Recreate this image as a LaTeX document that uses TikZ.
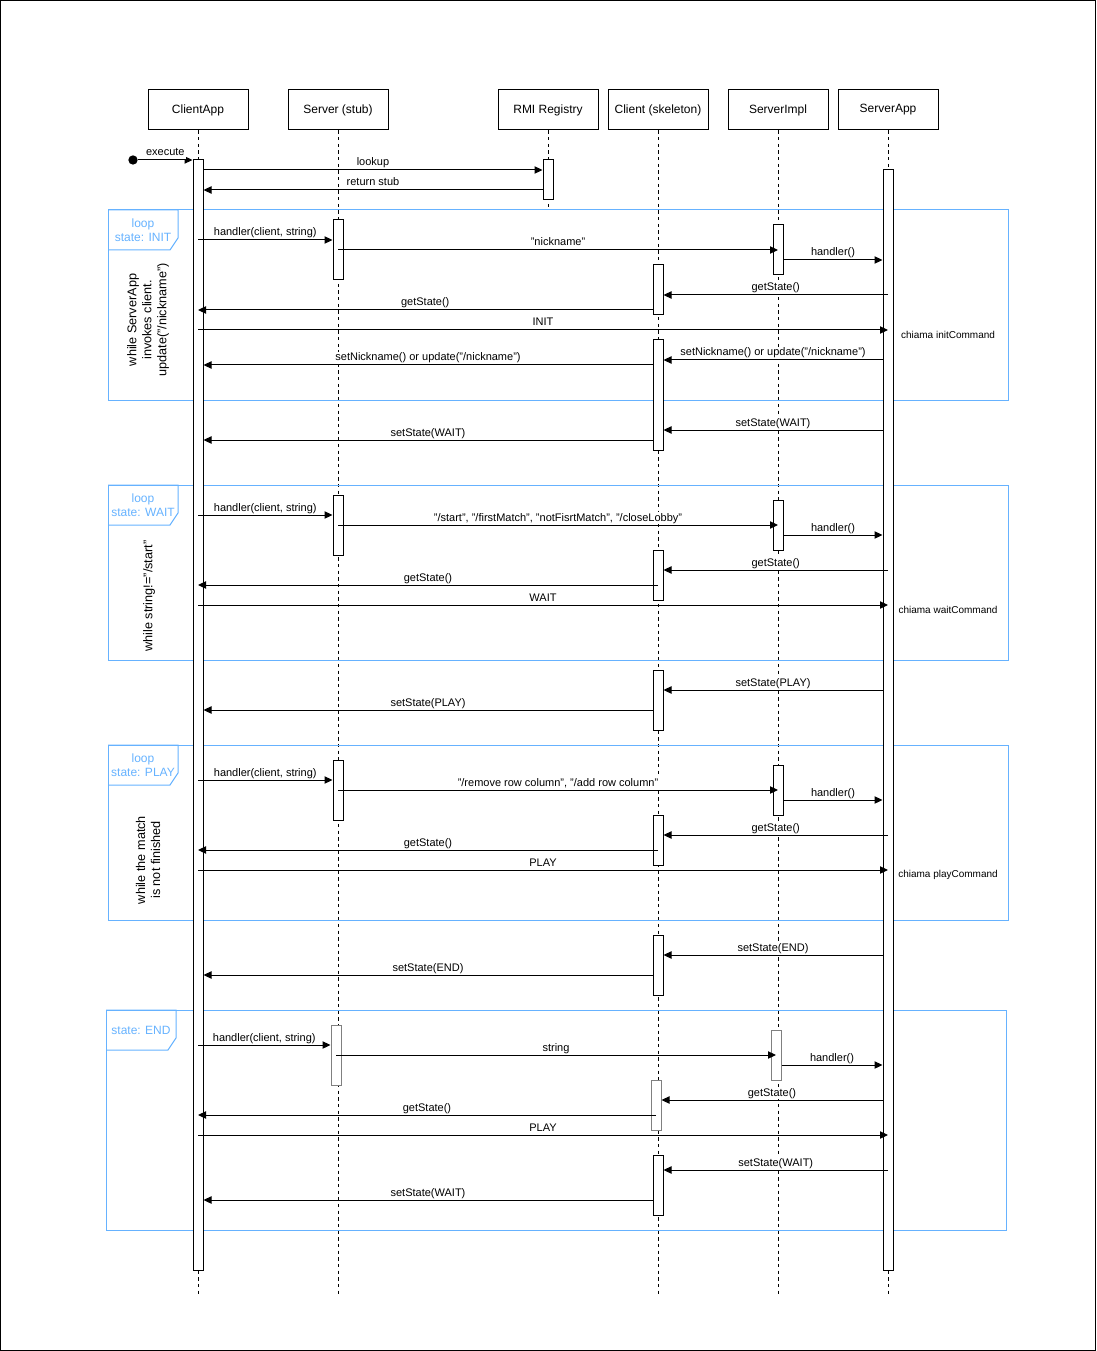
\documentclass[tikz,border=0pt]{standalone}
\usepackage{fontspec}
\setmainfont{Liberation Sans}
\usetikzlibrary{arrows.meta, positioning}
\definecolor{frameblue}{RGB}{102,178,255}

\begin{document}
\begin{tikzpicture}[x=0.75pt, y=-0.75pt, line width=0.75pt,
  head/.style={draw, minimum width=75pt, minimum height=30pt, inner sep=0pt, font=\fontsize{9}{11}\selectfont},
  life/.style={dash pattern=on 2.5pt off 2.5pt},
  act/.style={draw, fill=white, inner sep=0pt, minimum width=7.5pt},
  msg/.style={-{Triangle[length=6pt,width=5.5pt]}},
  lbl/.style={above, midway, fill=white, inner sep=0.8pt, outer sep=0.4pt, text height=6pt, text depth=1.8pt, font=\fontsize{8.25}{10}\selectfont},
  frame/.style={draw=frameblue},
  tab/.style={text=frameblue, align=center, font=\fontsize{9}{10.8}\selectfont},
  cond/.style={rotate=90, align=center, font=\fontsize{9.5}{11.25}\selectfont},
  note/.style={font=\fontsize{7.5}{9}\selectfont}]

\useasboundingbox (0,0) rectangle (1096,1351);
\draw[line width=1pt] (0.5,0.5) rectangle (1095.5,1350.5);

% partecipanti e linee di vita
\foreach \n/\x/\e/\t in {ca/198/1297/ClientApp, ss/338/1297/Server (stub), rmi/548/210/RMI Registry,
  sk/658/1297/Client (skeleton), si/778/1297/ServerImpl, sa/888/1297/ServerApp} {
  \node[head] (\n) at (\x,110) {\t};
  \coordinate (\n end) at (\x,\e);
  \draw[life] (\n) -- (\n end);
}

% riquadri dei cicli
\foreach \n/\x/\y/\h/\t in {f1/108/210/190/{loop\\state: INIT}, f2/108/485/175/{loop\\state: WAIT},
  f3/108/745/175/{loop\\state: PLAY}, f4/106/1010/220/{state: END}} {
  \draw[frame] (\x,\y) rectangle ++(900,\h);
  \draw[frame] (\x,\y) -- ++(70,0) -- ++(0,28) -- ++(-8,12) -- ++(-62,0);
  \node[tab] (\n) at (\x+35,\y+20) {\t};
}

\node[cond] (w1) at (148,320) {while ServerApp\\invokes client.\\update("/nickname")};
\node[cond] (w2) at (149,596) {while string!="/start"};
\node[cond] (w3) at (148,860) {while the match\\is not finished};

% barre di attivazione
\foreach \n/\x/\t/\b/\c in {caA/198/160/1270/black, saA/888/170/1270/black, rmiA/548/160/200/black,
  ss1/338/220/280/black, si1/778/225/275/black, sk1/658/265/315/black, sk2/658/340/450/black,
  ss2/338/495/555/black, si2/778/500/550/black, sk3/658/550/600/black, sk4/658/670/730/black,
  ss3/338/760/820/black, si3/778/765/815/black, sk5/658/815/865/black, sk6/658/935/995/black,
  ss4/336/1025/1085/gray, si4/776/1030/1080/gray, sk7/656/1080/1130/gray, sk8/658/1155/1215/black} {
  \pgfmathsetmacro{\m}{(\t+\b)/2}
  \pgfmathsetmacro{\h}{(\b-\t)*0.75}
  \node[act, draw=\c, minimum height=\h pt] (\n) at (\x,\m) {};
}

% avvio
\node[circle, fill=black, inner sep=0pt, minimum size=7pt] (st) at (133,160) {};
\draw[msg] (st) -- (caA.west |- st) node[lbl] {execute};
\draw[msg] (caA.east |- 0,170) -- (rmiA.west |- 0,170) node[lbl] {lookup};
\draw[msg] (rmiA.west |- 0,190) -- (caA.east |- 0,190) node[lbl] {return stub};

% INIT
\draw[msg] (ca |- 0,240) -- (ss1.west |- 0,240) node[lbl] {handler(client, string)};
\draw[msg] (ss |- 0,250) -- (si |- 0,250) node[lbl] {"nickname"};
\draw[msg] (si1.east |- 0,260) -- (saA.west |- 0,260) node[lbl] {handler()};
\draw[msg] (sa |- 0,295) -- (sk1.east |- 0,295) node[lbl] {getState()};
\draw[msg] (sk1.west |- 0,310) -- (ca |- 0,310) node[lbl] {getState()};
\draw[msg] (ca |- 0,330) -- (sa |- 0,330) node[lbl] {INIT};
\node[note] (n1) at (948,335) {chiama initCommand};
\draw[msg] (saA.west |- 0,360) -- (sk2.east |- 0,360) node[lbl] {setNickname() or update("/nickname")};
\draw[msg] (sk2.west |- 0,365) -- (caA.east |- 0,365) node[lbl] {setNickname() or update("/nickname")};
\draw[msg] (saA.west |- 0,430) -- (sk2.east |- 0,430) node[lbl] {setState(WAIT)};
\draw[msg] (sk2.west |- 0,440) -- (caA.east |- 0,440) node[lbl] {setState(WAIT)};

% WAIT
\draw[msg] (ca |- 0,515) -- (ss2.west |- 0,515) node[lbl] {handler(client, string)};
\draw[msg] (ss |- 0,525) -- (si |- 0,525) node[lbl] {"/start", "/firstMatch", "notFisrtMatch", "/closeLobby"};
\draw[msg] (si2.east |- 0,535) -- (saA.west |- 0,535) node[lbl] {handler()};
\draw[msg] (sa |- 0,570) -- (sk3.east |- 0,570) node[lbl] {getState()};
\draw[msg] (sk |- 0,585) -- (ca |- 0,585) node[lbl] {getState()};
\draw[msg] (ca |- 0,605) -- (sa |- 0,605) node[lbl] {WAIT};
\node[note] (n2) at (948,610) {chiama waitCommand};
\draw[msg] (saA.west |- 0,690) -- (sk4.east |- 0,690) node[lbl] {setState(PLAY)};
\draw[msg] (sk4.west |- 0,710) -- (caA.east |- 0,710) node[lbl] {setState(PLAY)};

% PLAY
\draw[msg] (ca |- 0,780) -- (ss3.west |- 0,780) node[lbl] {handler(client, string)};
\draw[msg] (ss |- 0,790) -- (si |- 0,790) node[lbl] {"/remove row column", "/add row column"};
\draw[msg] (si3.east |- 0,800) -- (saA.west |- 0,800) node[lbl] {handler()};
\draw[msg] (sa |- 0,835) -- (sk5.east |- 0,835) node[lbl] {getState()};
\draw[msg] (sk |- 0,850) -- (ca |- 0,850) node[lbl] {getState()};
\draw[msg] (ca |- 0,870) -- (sa |- 0,870) node[lbl] {PLAY};
\node[note] (n3) at (948,875) {chiama playCommand};
\draw[msg] (saA.west |- 0,955) -- (sk6.east |- 0,955) node[lbl] {setState(END)};
\draw[msg] (sk6.west |- 0,975) -- (caA.east |- 0,975) node[lbl] {setState(END)};

% END
\draw[msg] (ca |- 0,1045) -- (ss4.west |- 0,1045) node[lbl] {handler(client, string)};
\draw[msg] (ss4 |- 0,1055) -- (si4 |- 0,1055) node[lbl] {string};
\draw[msg] (si4.east |- 0,1065) -- (saA.west |- 0,1065) node[lbl] {handler()};
\draw[msg] (saA.west |- 0,1100) -- (sk7.east |- 0,1100) node[lbl] {getState()};
\draw[msg] (sk7 |- 0,1115) -- (ca |- 0,1115) node[lbl] {getState()};
\draw[msg] (ca |- 0,1135) -- (sa |- 0,1135) node[lbl] {PLAY};
\draw[msg] (sa |- 0,1170) -- (sk8.east |- 0,1170) node[lbl] {setState(WAIT)};
\draw[msg] (sk8.west |- 0,1200) -- (caA.east |- 0,1200) node[lbl] {setState(WAIT)};
\end{tikzpicture}
\end{document}
